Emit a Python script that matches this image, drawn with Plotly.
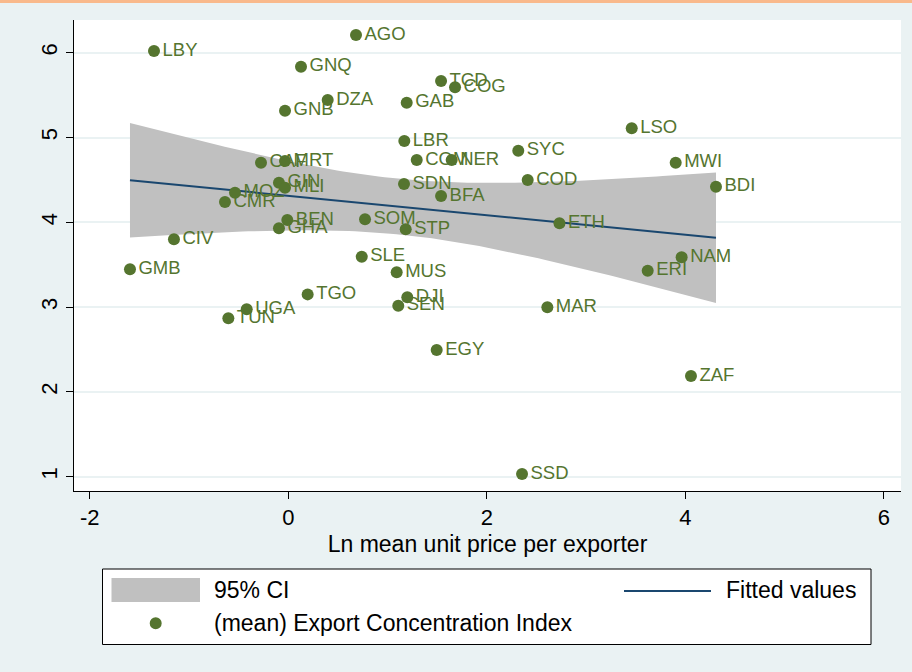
import numpy as np
import plotly.graph_objects as go

# Country codes with export concentration vs. log mean unit price per exporter
countries = [
    "LBY", "AGO", "GNQ", "DZA", "GNB", "TCD", "COG", "GAB", "LBR", "COM",
    "NER", "SDN", "BFA", "SYC", "COD", "LSO", "MWI", "BDI", "ETH", "NAM",
    "ERI", "MAR", "CAF", "MRT", "GIN", "MLI", "MOZ", "CMR", "BEN", "GHA",
    "SOM", "STP", "CIV", "GMB", "SLE", "MUS", "TGO", "DJI", "SEN", "UGA",
    "TUN", "EGY", "ZAF", "SSD",
]
ln_unit_price = [
    -1.353, 0.682, 0.128, 0.397, -0.033, 1.539, 1.680, 1.193, 1.169, 1.294,
    1.646, 1.166, 1.539, 2.317, 2.412, 3.460, 3.903, 4.309, 2.732, 3.963,
    3.621, 2.610, -0.275, -0.033, -0.094, -0.033, -0.537, -0.638, -0.010, -0.094,
    0.773, 1.183, -1.152, -1.595, 0.740, 1.092, 0.195, 1.199, 1.108, -0.419,
    -0.604, 1.495, 4.057, 2.355,
]
export_concentration = [
    6.02, 6.209, 5.835, 5.442, 5.316, 5.666, 5.592, 5.41, 4.959, 4.735,
    4.735, 4.452, 4.31, 4.844, 4.499, 5.108, 4.703, 4.42, 3.988, 3.587,
    3.429, 2.998, 4.703, 4.723, 4.467, 4.408, 4.349, 4.24, 4.027, 3.929,
    4.035, 3.917, 3.80, 3.446, 3.594, 3.41, 3.15, 3.115, 3.017, 2.974,
    2.868, 2.494, 2.187, 1.032,
]
x_ticks = [-2, 0, 2, 4, 6]
y_ticks = [1, 2, 3, 4, 5, 6]

GREEN = "#55752f"
NAVY = "#1a476f"
CI_GRAY = "#c0c0c0"
BG = "#eaf2f3"
FONT = "Liberation Sans, Arial, sans-serif"

# Linear fit with 95% confidence band for the mean prediction
x = np.array(ln_unit_price)
y = np.array(export_concentration)
n = len(x)
slope, intercept = np.polyfit(x, y, 1)
resid = y - (intercept + slope * x)
s = np.sqrt(np.sum(resid ** 2) / (n - 2))
sxx = np.sum((x - x.mean()) ** 2)
t_crit = 2.018  # t(0.975, n-2 = 42)
xs = np.linspace(x.min(), x.max(), 100)
fit = intercept + slope * xs
se = s * np.sqrt(1.0 / n + (xs - x.mean()) ** 2 / sxx)
upper = fit + t_crit * se
lower = fit - t_crit * se

fig = go.Figure()
fig.add_trace(go.Scatter(
    x=np.concatenate([xs, xs[::-1]]),
    y=np.concatenate([upper, lower[::-1]]),
    fill="toself", fillcolor=CI_GRAY, line=dict(width=0),
    mode="lines", hoverinfo="skip", showlegend=False,
))
fig.add_trace(go.Scatter(
    x=xs, y=fit, mode="lines", line=dict(color=NAVY, width=2),
    showlegend=False,
))
fig.add_trace(go.Scatter(
    x=ln_unit_price, y=export_concentration, mode="markers+text",
    text=countries, textposition="middle right",
    textfont=dict(family=FONT, size=18.5, color=GREEN),
    marker=dict(color=GREEN, size=12, line=dict(width=0)),
    cliponaxis=False, showlegend=False,
))

W, H = 912, 672
ML, MR, MT, MB = 74, 11, 20, 181
PW, PH = W - ML - MR, H - MT - MB


def px_x(p):
    return (p - ML) / PW


def px_y(p):
    return (H - MB - p) / PH


shapes = [
    # top accent strip
    dict(type="rect", xref="paper", yref="paper", x0=px_x(0), x1=px_x(W),
         y0=px_y(3), y1=px_y(0), fillcolor="#f9b98b", line=dict(width=0)),
    # legend frame
    dict(type="rect", xref="paper", yref="paper", x0=px_x(102.5), x1=px_x(871),
         y0=px_y(644.5), y1=px_y(569), fillcolor="white",
         line=dict(color="black", width=1)),
    # legend key: confidence band
    dict(type="rect", xref="paper", yref="paper", x0=px_x(111.5), x1=px_x(200),
         y0=px_y(602), y1=px_y(578), fillcolor=CI_GRAY, line=dict(width=0)),
    # legend key: fitted line
    dict(type="line", xref="paper", yref="paper", x0=px_x(624), x1=px_x(711),
         y0=px_y(591), y1=px_y(591), line=dict(color=NAVY, width=2)),
    # legend key: marker
    dict(type="circle", xref="paper", yref="paper", x0=px_x(149.7), x1=px_x(161.7),
         y0=px_y(629.3), y1=px_y(617.3), fillcolor=GREEN, line=dict(width=0)),
]

legend_font = dict(family=FONT, size=23, color="black")
annotations = [
    dict(text="95% CI", xref="paper", yref="paper", x=px_x(212), y=px_y(590),
         xanchor="left", yanchor="middle", showarrow=False, font=legend_font),
    dict(text="Fitted values", xref="paper", yref="paper", x=px_x(724), y=px_y(590),
         xanchor="left", yanchor="middle", showarrow=False, font=legend_font),
    dict(text="(mean) Export Concentration Index", xref="paper", yref="paper",
         x=px_x(212), y=px_y(623), xanchor="left", yanchor="middle",
         showarrow=False, font=legend_font),
]

fig.update_layout(
    width=W, height=H,
    margin=dict(l=ML, r=MR, t=MT, b=MB, pad=0),
    paper_bgcolor=BG, plot_bgcolor="white",
    font=dict(family=FONT, color="black"),
    showlegend=False,
    shapes=shapes, annotations=annotations,
    xaxis=dict(
        range=[-2.159, 6.173], tickvals=x_ticks,
        ticktext=[str(v) for v in x_ticks], ticks="outside", ticklen=7,
        tickcolor="black", showline=True, linecolor="black", linewidth=1,
        showgrid=False, zeroline=False, tickfont=dict(size=22),
        title=dict(text="Ln mean unit price per exporter", font=dict(size=23),
                   standoff=6),
    ),
    yaxis=dict(
        range=[0.831, 6.386], tickvals=y_ticks,
        ticktext=[str(v) for v in y_ticks], ticks="outside", ticklen=7,
        tickcolor="black", showline=True, linecolor="black", linewidth=1,
        showgrid=True, gridcolor=BG, gridwidth=1.5, zeroline=False,
        tickangle=-90, tickfont=dict(size=22),
    ),
)

fig.write_html("out.html")
